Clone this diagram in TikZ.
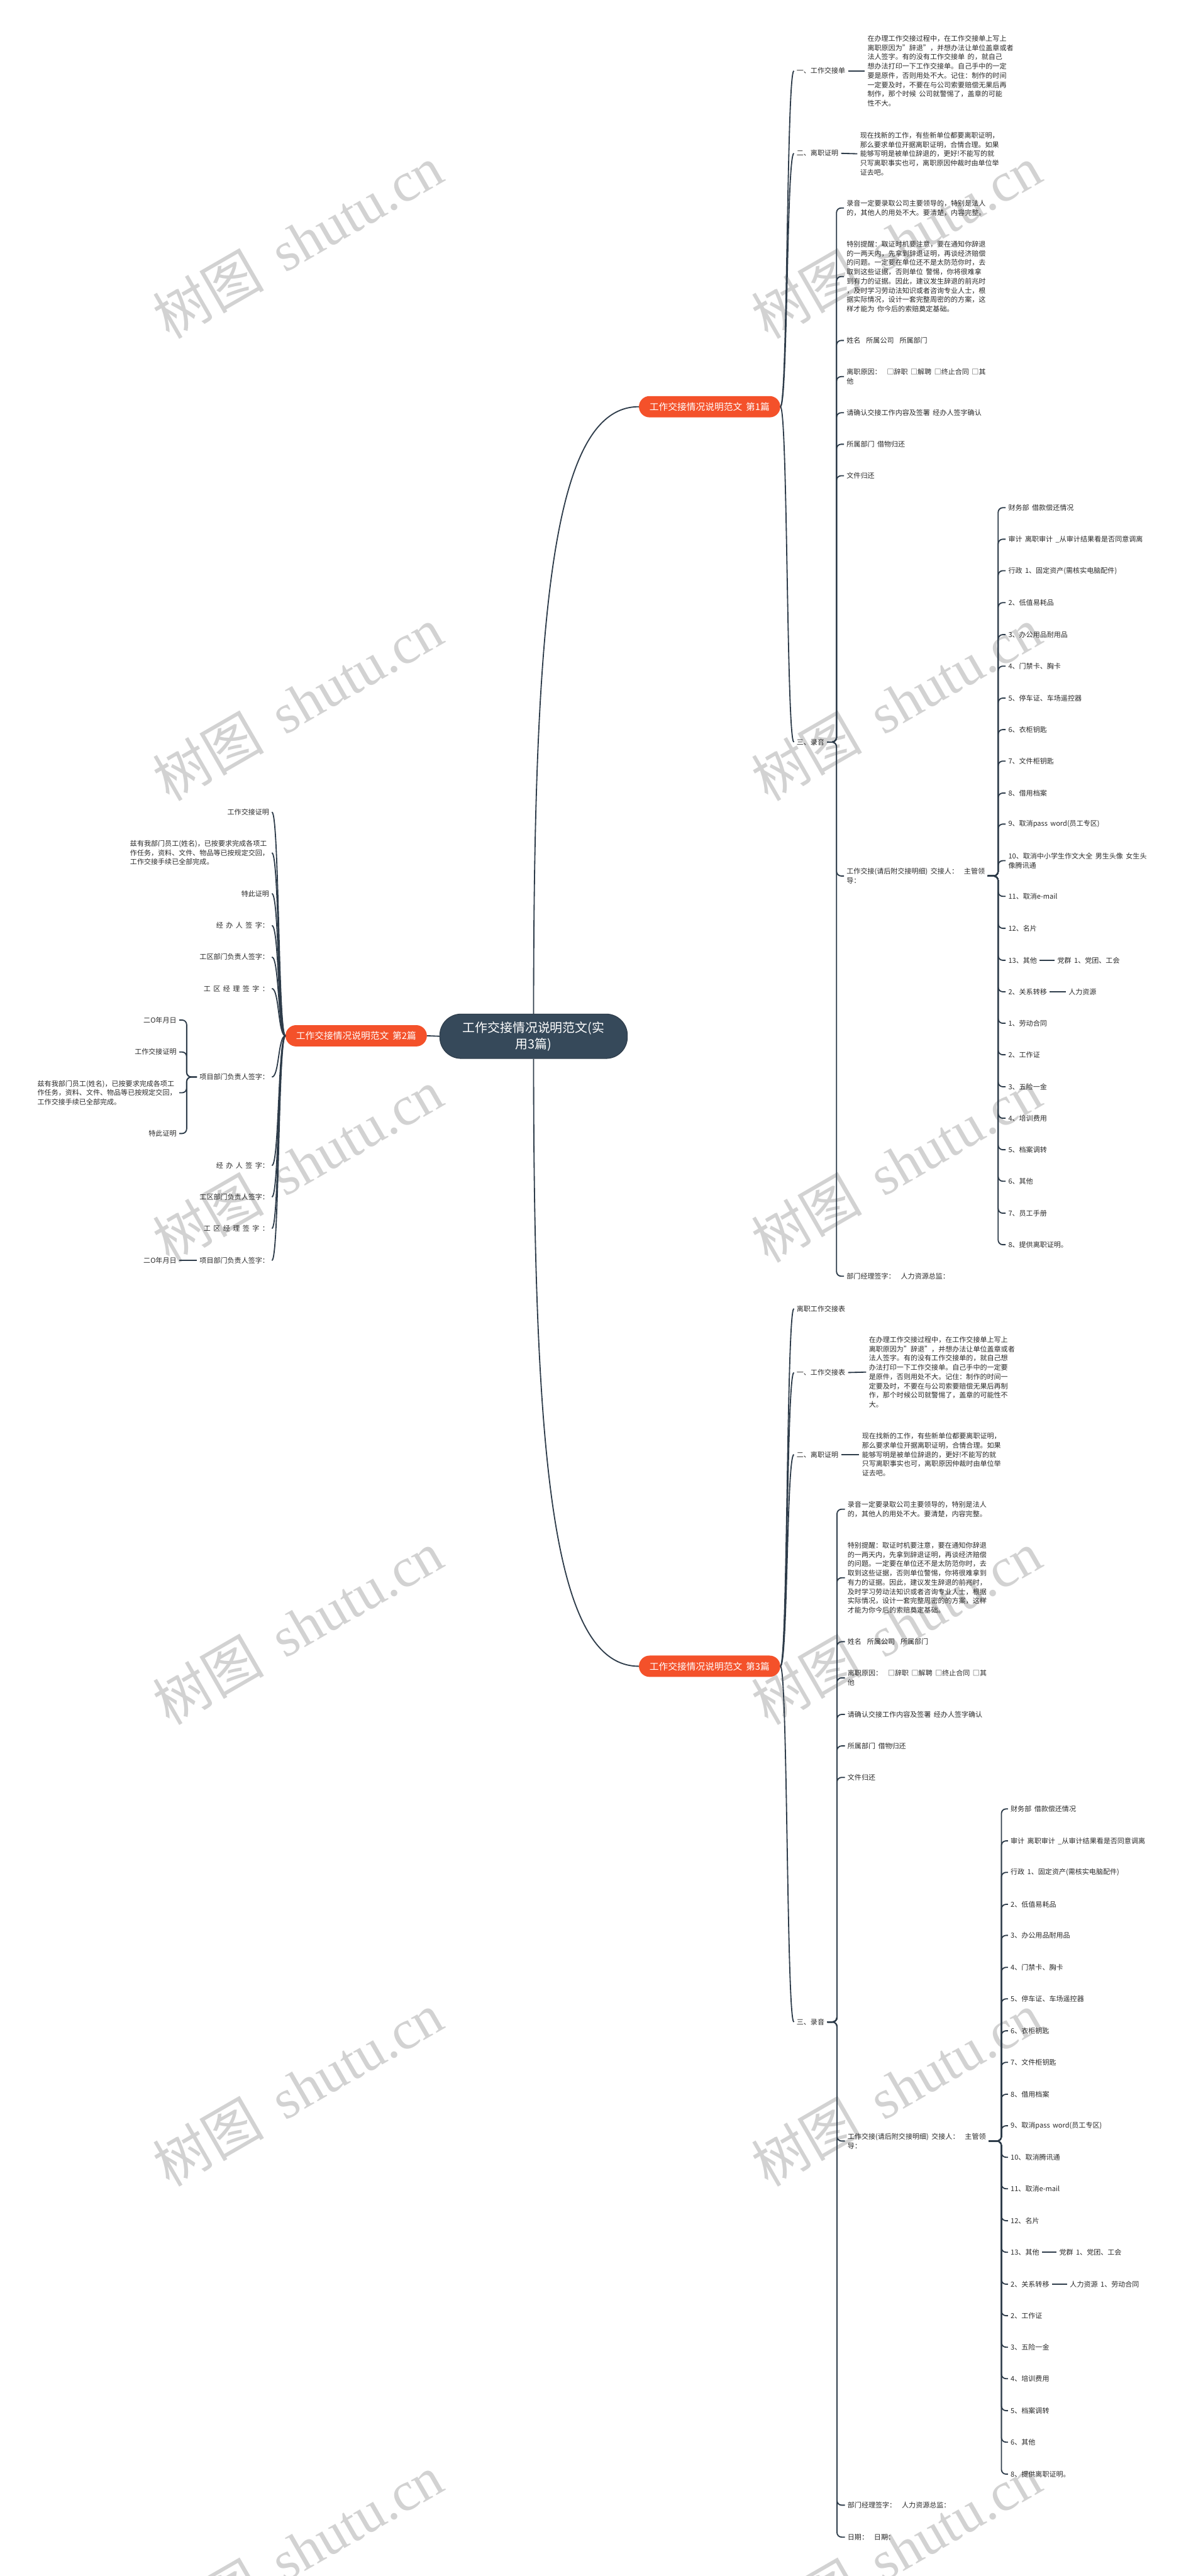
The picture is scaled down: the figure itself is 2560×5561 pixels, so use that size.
\documentclass[tikz,border=0pt]{standalone}
\usepackage{fontspec}
\setmainfont{Noto Sans CJK SC}[WordSpace=1.8]
\newfontfamily\wmlat{Liberation Serif}
\newfontfamily\wmcjk{Noto Sans CJK SC}
\definecolor{linec}{HTML}{2E3C4A}
\definecolor{orng}{HTML}{F4512A}
\definecolor{rootc}{HTML}{36495A}
\definecolor{txtc}{HTML}{2A2A2A}
\definecolor{wmc}{RGB}{210,210,210}
\tikzset{
  base/.style={inner ysep=1pt, inner xsep=0pt, text=txtc, font=\fontsize{15}{20}\selectfont, align=left},
  lt/.style={base, anchor=west, outer xsep=6pt, xshift=-6pt},
  rt/.style={base, anchor=east, outer xsep=6pt, xshift=6pt},
  pill/.style={fill=orng, text=white, rounded corners=23pt, minimum height=46pt, inner xsep=23pt, inner ysep=0pt, font=\fontsize{20}{24}\selectfont},
  rootn/.style={fill=rootc, draw=linec, line width=1.5pt, text=white, rounded corners=46pt, minimum width=405pt, minimum height=96pt, align=center, font=\fontsize{27}{35}\selectfont},
  conn/.style={draw=linec, line width=2.5pt},
  elb/.style={conn, rounded corners=10pt},
  wm/.style={text=wmc, rotate=30, font=\fontsize{120}{120}\selectfont, inner sep=0pt},
}
\begin{document}
\begin{tikzpicture}[x=1pt,y=-1pt]
\useasboundingbox (0,0) rectangle (2560,5561);
\fill[white] (0,0) rectangle (2560,5561);
% watermarks
\foreach \r in {0,...,5}{
  \foreach \cx in {643,1935}{
    \node[wm] (wm-\cx-\r) at (\cx,{522+997*\r}) {{\wmcjk 树图} {\wmlat shutu.cn}};
  }
}
% root and branches
\node[rootn] (root) at (1152,2237) {工作交接情况说明范文(实\\用3篇)};
\node[pill] (b1) at (1532,878) {工作交接情况说明范文 第1篇};
\node[pill] (b2) at (769,2236) {工作交接情况说明范文 第2篇};
\node[pill] (b3) at (1532,3597) {工作交接情况说明范文 第3篇};
\draw[conn] (root.north) .. controls +(0,-889) and +(-183,0) .. (b1.west);
\draw[conn] (root.south) .. controls +(0,889) and +(-183,0) .. (b3.west);
\draw[conn] (root.west) -- (b2.east);

% ===== Branch 1 =====
\node[lt] (a1) at (1720,153) {一、工作交接单};
\node[lt] (a1l) at (1873,153) {在办理工作交接过程中，在工作交接单上写上\\离职原因为"辞退"，并想办法让单位盖章或者\\法人签字。有的没有工作交接单 的，就自己\\想办法打印一下工作交接单。自己手中的一定\\要是原件，否则用处不大。记住：制作的时间\\一定要及时，不要在与公司索要赔偿无果后再\\制作，那个时候 公司就警惕了，盖章的可能\\性不大。};
\draw[conn] (a1.east) -- (a1l.west);
\node[lt] (a2) at (1720,331) {二、离职证明};
\node[lt] (a2l) at (1857,332) {现在找新的工作，有些新单位都要离职证明，\\那么要求单位开据离职证明，合情合理。如果\\能够写明是被单位辞退的，更好!不能写的就\\只写离职事实也可，离职原因仲裁时由单位举\\证去吧。};
\draw[conn] (a2.east) -- (a2l.west);
\node[lt] (a3) at (1720,1602) {三、录音};
\foreach \c in {a1,a2,a3} \draw[conn] (b1.east) .. controls +(16,0) and +(-16,0) .. (\c.west);

\coordinate (s1) at (1806,0);
\node[lt] (a31) at (1828,449) {录音一定要录取公司主要领导的，特别是法人\\的，其他人的用处不大。要清楚，内容完整。};
\node[lt] (a32) at (1828,597) {特别提醒：取证时机要注意，要在通知你辞退\\的一两天内，先拿到辞退证明，再谈经济赔偿\\的问题。一定要在单位还不是太防范你时，去\\取到这些证据，否则单位 警惕，你将很难拿\\到有力的证据。因此，建议发生辞退的前兆时\\，及时学习劳动法知识或者咨询专业人士，根\\据实际情况，设计一套完整周密的的方案，这\\样才能为 你今后的索赔奠定基础。};
\node[lt] (a33) at (1828,735) {姓名\ \ 所属公司\ \ 所属部门};
\node[lt] (a34) at (1828,813) {离职原因：\ \ □辞职 □解聘 □终止合同 □其\\他};
\node[lt] (a35) at (1828,891) {请确认交接工作内容及签署 经办人签字确认};
\node[lt] (a36) at (1828,959) {所属部门 借物归还};
\node[lt] (a37) at (1828,1027) {文件归还};
\node[lt] (a38) at (1828,1891) {工作交接(请后附交接明细) 交接人：\ \ 主管领\\导：};
\node[lt] (a39) at (1828,2755) {部门经理签字：\ \ 人力资源总监：};
\foreach \c in {a31,a32,a33,a34,a35,a36,a37,a38,a39} \draw[elb] (a3.east) -- (a3.east -| s1) |- (\c.west);

\coordinate (s2) at (2155,0);
\node[lt] (e1) at (2177,1096) {财务部 借款偿还情况};
\node[lt] (e2) at (2177,1164) {审计 离职审计 \_从审计结果看是否同意调离};
\node[lt] (e3) at (2177,1232) {行政 1、固定资产(需核实电脑配件)};
\node[lt] (e4) at (2177,1301) {2、低值易耗品};
\node[lt] (e5) at (2177,1370) {3、办公用品耐用品};
\node[lt] (e6) at (2177,1438) {4、门禁卡、胸卡};
\node[lt] (e7) at (2177,1507) {5、停车证、车场遥控器};
\node[lt] (e8) at (2177,1575) {6、衣柜钥匙};
\node[lt] (e9) at (2177,1643) {7、文件柜钥匙};
\node[lt] (e10) at (2177,1712) {8、借用档案};
\node[lt] (e11) at (2177,1779) {9、取消pass word(员工专区)};
\node[lt] (e12) at (2177,1858) {10、取消中小学生作文大全 男生头像 女生头\\像腾讯通};
\node[lt] (e13) at (2177,1935) {11、取消e-mail};
\node[lt] (e14) at (2177,2004) {12、名片};
\node[lt] (e15) at (2177,2073) {13、其他};
\node[lt] (e15c) at (2283,2073) {党群 1、党团、工会};
\draw[conn] (e15.east) -- (e15c.west);
\node[lt] (e16) at (2177,2141) {2、关系转移};
\node[lt] (e16c) at (2307,2141) {人力资源};
\draw[conn] (e16.east) -- (e16c.west);
\node[lt] (e17) at (2177,2209) {1、劳动合同};
\node[lt] (e18) at (2177,2277) {2、工作证};
\node[lt] (e19) at (2177,2346) {3、五险一金};
\node[lt] (e20) at (2177,2414) {4、培训费用};
\node[lt] (e21) at (2177,2482) {5、档案调转};
\node[lt] (e22) at (2177,2550) {6、其他};
\node[lt] (e23) at (2177,2619) {7、员工手册};
\node[lt] (e24) at (2177,2687) {8、提供离职证明。};
\foreach \c in {e1,e2,e3,e4,e5,e6,e7,e8,e9,e10,e11,e12,e13,e14,e15,e16,e17,e18,e19,e20,e21,e22,e23,e24}
  \draw[elb] (a38.east) -- (a38.east -| s2) |- (\c.west);

% ===== Branch 2 =====
\node[rt] (d1) at (581,1753) {工作交接证明};
\node[rt] (d2) at (581,1841) {兹有我部门员工(姓名)，已按要求完成各项工\\作任务，资料、文件、物品等已按规定交回，\\工作交接手续已全部完成。};
\node[rt] (d3) at (581,1929) {特此证明};
\node[rt] (d4) at (581,1998) {经 办 人 签 字：};
\node[rt] (d5) at (581,2066) {工区部门负责人签字：};
\node[rt] (d6) at (581,2134) {工 区 经 理 签 字 ：};
\node[rt] (d7) at (581,2325) {项目部门负责人签字：};
\node[rt] (d8) at (581,2516) {经 办 人 签 字：};
\node[rt] (d9) at (581,2584) {工区部门负责人签字：};
\node[rt] (d10) at (581,2652) {工 区 经 理 签 字 ：};
\node[rt] (d11) at (581,2721) {项目部门负责人签字：};
\foreach \c in {d1,d2,d3,d4,d5,d6,d7,d8,d9,d10,d11} \draw[conn] (b2.west) .. controls +(-16,0) and +(16,0) .. (\c.east);
\coordinate (s4) at (403,0);
\node[rt] (d71) at (381,2202) {二O年月日};
\node[rt] (d72) at (381,2271) {工作交接证明};
\node[rt] (d73) at (381,2359) {兹有我部门员工(姓名)，已按要求完成各项工\\作任务，资料、文件、物品等已按规定交回，\\工作交接手续已全部完成。};
\node[rt] (d74) at (381,2447) {特此证明};
\foreach \c in {d71,d72,d73,d74} \draw[elb] (d7.west) -- (d7.west -| s4) |- (\c.east);
\node[rt] (d111) at (381,2721) {二O年月日};
\draw[conn] (d11.west) -- (d111.east);

% ===== Branch 3 =====
\node[lt] (c1) at (1720,2825) {离职工作交接表};
\node[lt] (c2) at (1720,2963) {一、工作交接表};
\node[lt] (c2l) at (1876,2962) {在办理工作交接过程中，在工作交接单上写上\\离职原因为"辞退"，并想办法让单位盖章或者\\法人签字。有的没有工作交接单的，就自己想\\办法打印一下工作交接单。自己手中的一定要\\是原件，否则用处不大。记住：制作的时间一\\定要及时，不要在与公司索要赔偿无果后再制\\作，那个时候公司就警惕了，盖章的可能性不\\大。};
\draw[conn] (c2.east) -- (c2l.west);
\node[lt] (c3) at (1720,3140) {二、离职证明};
\node[lt] (c3l) at (1861,3140) {现在找新的工作，有些新单位都要离职证明，\\那么要求单位开据离职证明，合情合理。如果\\能够写明是被单位辞退的，更好!不能写的就\\只写离职事实也可，离职原因仲裁时由单位举\\证去吧。};
\draw[conn] (c3.east) -- (c3l.west);
\node[lt] (c4) at (1720,4365) {三、录音};
\foreach \c in {c1,c2,c3,c4} \draw[conn] (b3.east) .. controls +(16,0) and +(-16,0) .. (\c.west);

\coordinate (s5) at (1807,0);
\node[lt] (g1) at (1830,3258) {录音一定要录取公司主要领导的，特别是法人\\的，其他人的用处不大。要清楚，内容完整。};
\node[lt] (g2) at (1830,3406) {特别提醒：取证时机要注意，要在通知你辞退\\的一两天内，先拿到辞退证明，再谈经济赔偿\\的问题。一定要在单位还不是太防范你时，去\\取到这些证据，否则单位警惕，你将很难拿到\\有力的证据。因此，建议发生辞退的前兆时，\\及时学习劳动法知识或者咨询专业人士，根据\\实际情况，设计一套完整周密的的方案，这样\\才能为你今后的索赔奠定基础。};
\node[lt] (g3) at (1830,3544) {姓名\ \ 所属公司\ \ 所属部门};
\node[lt] (g4) at (1830,3622) {离职原因：\ \ □辞职 □解聘 □终止合同 □其\\他};
\node[lt] (g5) at (1830,3701) {请确认交接工作内容及签署 经办人签字确认};
\node[lt] (g6) at (1830,3769) {所属部门 借物归还};
\node[lt] (g7) at (1830,3837) {文件归还};
\node[lt] (g8) at (1830,4622) {工作交接(请后附交接明细) 交接人：\ \ 主管领\\导：};
\node[lt] (g9) at (1830,5408) {部门经理签字：\ \ 人力资源总监：};
\node[lt] (g10) at (1830,5477) {日期：\ \ 日期：};
\foreach \c in {g1,g2,g3,g4,g5,g6,g7,g8,g9,g10} \draw[elb] (c4.east) -- (c4.east -| s5) |- (\c.west);

\coordinate (s6) at (2162,0);
\node[lt] (f1) at (2182,3905) {财务部 借款偿还情况};
\node[lt] (f2) at (2182,3974) {审计 离职审计 \_从审计结果看是否同意调离};
\node[lt] (f3) at (2182,4042) {行政 1、固定资产(需核实电脑配件)};
\node[lt] (f4) at (2182,4111) {2、低值易耗品};
\node[lt] (f5) at (2182,4178) {3、办公用品耐用品};
\node[lt] (f6) at (2182,4247) {4、门禁卡、胸卡};
\node[lt] (f7) at (2182,4315) {5、停车证、车场遥控器};
\node[lt] (f8) at (2182,4384) {6、衣柜钥匙};
\node[lt] (f9) at (2182,4452) {7、文件柜钥匙};
\node[lt] (f10) at (2182,4521) {8、借用档案};
\node[lt] (f11) at (2182,4589) {9、取消pass word(员工专区)};
\node[lt] (f12) at (2182,4657) {10、取消腾讯通};
\node[lt] (f13) at (2182,4725) {11、取消e-mail};
\node[lt] (f14) at (2182,4794) {12、名片};
\node[lt] (f15) at (2182,4862) {13、其他};
\node[lt] (f15c) at (2287,4862) {党群 1、党团、工会};
\draw[conn] (f15.east) -- (f15c.west);
\node[lt] (f16) at (2182,4931) {2、关系转移};
\node[lt] (f16c) at (2310,4931) {人力资源 1、劳动合同};
\draw[conn] (f16.east) -- (f16c.west);
\node[lt] (f17) at (2182,4999) {2、工作证};
\node[lt] (f18) at (2182,5067) {3、五险一金};
\node[lt] (f19) at (2182,5135) {4、培训费用};
\node[lt] (f20) at (2182,5204) {5、档案调转};
\node[lt] (f21) at (2182,5272) {6、其他};
\node[lt] (f22) at (2182,5341) {8、提供离职证明。};
\foreach \c in {f1,f2,f3,f4,f5,f6,f7,f8,f9,f10,f11,f12,f13,f14,f15,f16,f17,f18,f19,f20,f21,f22}
  \draw[elb] (g8.east) -- (g8.east -| s6) |- (\c.west);
\end{tikzpicture}
\end{document}
